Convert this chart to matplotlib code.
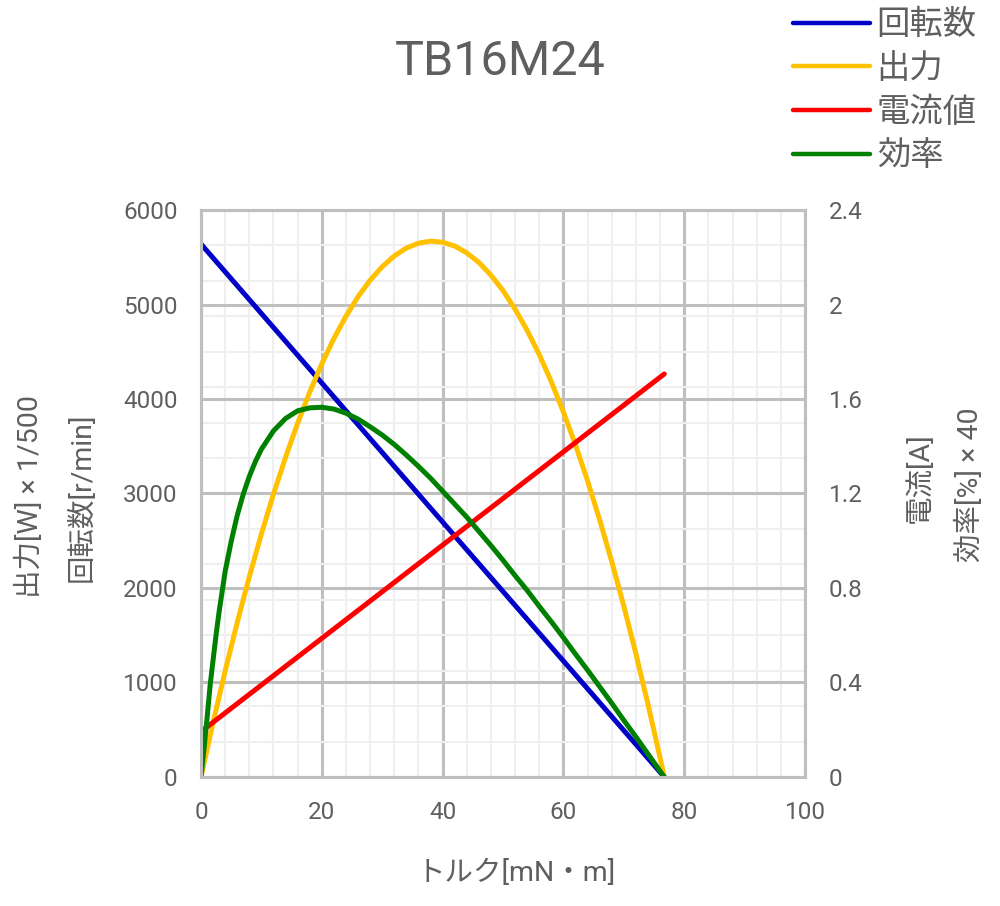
import matplotlib
matplotlib.use("Agg")
import matplotlib.pyplot as plt
from matplotlib.ticker import MultipleLocator, FuncFormatter

plt.rcParams['font.family'] = ['Roboto', 'Noto Sans CJK JP', 'DejaVu Sans']

# data (torque in mN*m)
torque_lin = [0, 76.7]
speed = [5640, 0]            # r/min
current = [0.192, 1.706]     # A

torque_out = [0, 2, 4, 6, 8, 10, 12, 14, 16, 18, 20, 22, 24, 26, 28, 30, 32, 34, 36, 38,
              40, 42, 44, 46, 48, 50, 52, 54, 56, 58, 60, 62, 64, 66, 68, 70, 72, 74, 76, 76.7]
output = [0, 576, 1121, 1635, 2119, 2572, 2994, 3384, 3744, 4073, 4372, 4640, 4876, 5082,
          5257, 5400, 5514, 5597, 5649, 5670, 5659, 5619, 5547, 5445, 5311, 5147, 4951, 4726,
          4470, 4182, 3862, 3514, 3134, 2722, 2280, 1809, 1305, 770, 205, 0]   # W x 500

torque_eff = [0, 0.25, 0.5, 0.75, 1, 1.5, 2, 2.5, 3, 4, 5, 6, 7, 8, 9, 10, 12, 14, 16, 18, 20,
              22, 24, 26, 28, 30, 32, 34, 36, 38, 40, 42, 44, 46, 48, 50, 52, 54, 56, 58, 60,
              62, 64, 66, 68, 70, 72, 74, 76, 76.7]
efficiency = [0, 2.4, 4.8, 7.4, 9.9, 15.4, 19.8, 24.1, 28.0, 34.8, 39.9, 44.3, 47.9, 50.9,
              53.4, 55.5, 58.6, 60.7, 62.0, 62.5, 62.6, 62.3, 61.6, 60.6, 59.3, 57.9, 56.3,
              54.5, 52.6, 50.6, 48.4, 46.2, 44.0, 41.6, 39.2, 36.7, 34.1, 31.6, 28.9, 26.3,
              23.6, 20.8, 18.1, 15.3, 12.5, 9.6, 6.8, 3.9, 1.0, 0]   # %

series_names = ["回転数", "出力", "電流値", "効率"]
colors = ["#0000C8", "#FFC000", "#FF0000", "#008000"]

text_col = "#5F5F5F"
grid_major = "#BFBFBF"
grid_minor = "#EFEFEF"

fig = plt.figure(figsize=(10, 9.06), dpi=100)
ax = fig.add_axes([0.201, 0.1424, 0.604, 0.6258])
ax2 = ax.twinx()

l1, = ax.plot(torque_lin, speed, color=colors[0], lw=3.6, solid_capstyle='round')
l2, = ax.plot(torque_out, output, color=colors[1], lw=3.6, solid_capstyle='round')
l3, = ax2.plot(torque_lin, current, color=colors[2], lw=3.6, solid_capstyle='round')
l4, = ax2.plot(torque_eff, [e / 40 for e in efficiency], color=colors[3], lw=3.6,
               solid_capstyle='round')

ax.set_xlim(0, 100)
ax.set_ylim(0, 6000)
ax2.set_ylim(0, 2.4)

ax.xaxis.set_major_locator(MultipleLocator(20))
ax.xaxis.set_minor_locator(MultipleLocator(4))
ax.yaxis.set_major_locator(MultipleLocator(1000))
ax.yaxis.set_minor_locator(MultipleLocator(375))
ax2.yaxis.set_major_locator(MultipleLocator(0.4))
ax2.yaxis.set_major_formatter(FuncFormatter(lambda v, p: f"{v:g}"))

ax.grid(which='minor', color=grid_minor, lw=1.5)
ax.grid(which='major', color=grid_major, lw=2.2)
ax.set_axisbelow(True)

for a in (ax, ax2):
    for s in a.spines.values():
        s.set_color(grid_major)
        s.set_linewidth(2.2)
    a.tick_params(which='both', length=0, labelsize=17.5, labelcolor=text_col, pad=17)

fig.text(0.5, 1 - 62 / 906, "TB16M24", fontsize=35, color=text_col, ha='center', va='center')

fig.text(0.516, 1 - 873 / 906, "トルク[mN・m]", fontsize=20.5, color=text_col,
         ha='center', va='center')
fig.text(0.030, 1 - 496 / 906, "出力[W] × 1/500", fontsize=20.5, color=text_col,
         ha='center', va='center', rotation=90)
fig.text(0.082, 1 - 497 / 906, "回転数[r/min]", fontsize=20.5, color=text_col,
         ha='center', va='center', rotation=90)
fig.text(0.920, 1 - 478 / 906, "電流[A]", fontsize=20.5, color=text_col,
         ha='center', va='center', rotation=90)
fig.text(0.970, 1 - 485 / 906, "効率[%] × 40", fontsize=20.5, color=text_col,
         ha='center', va='center', rotation=90)

leg = fig.legend([l1, l2, l3, l4], series_names, loc='upper left',
                 bbox_to_anchor=(0.790, 1.0 - 6 / 906), frameon=False, fontsize=24,
                 handlelength=2.3, handletextpad=0.2, labelspacing=0.35,
                 borderpad=0.1, borderaxespad=0)
for t in leg.get_texts():
    t.set_color(text_col)
for h in leg.legend_handles:
    h.set_linewidth(3.2)

fig.savefig("out.png", dpi=100)
